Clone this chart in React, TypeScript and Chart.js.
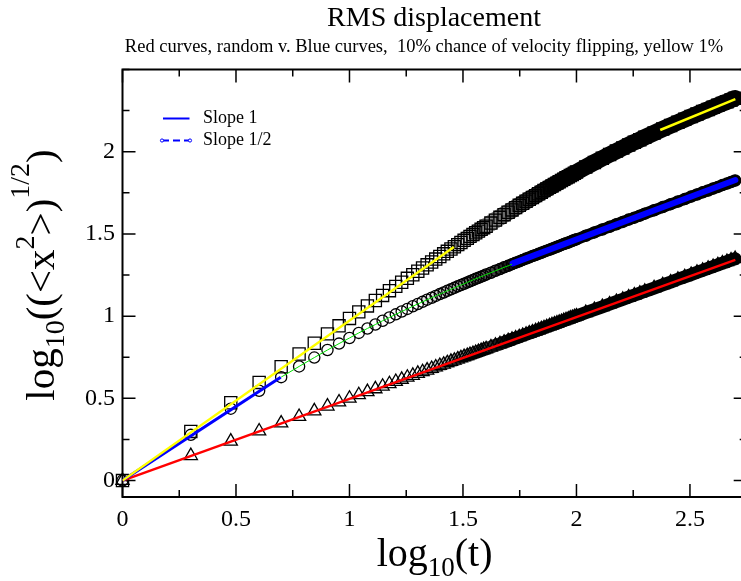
import React, { useEffect, useRef } from 'react';
import { Chart, registerables } from 'chart.js';

Chart.register(...registerables);

const FONT = "'Liberation Serif', 'Times New Roman', Times, serif";

// ---- data (x = log10(t), y = log10(rms displacement)) ----
// t = 1..40, 42..100 step 2, 110..200 step 10, 220..500 step 20
const logTime = [0, 0.301, 0.477, 0.602, 0.699, 0.778, 0.845, 0.903, 0.954, 1, 1.041, 1.079, 1.114, 1.146, 1.176, 1.204, 1.23, 1.255, 1.279, 1.301,
  1.322, 1.342, 1.362, 1.38, 1.398, 1.415, 1.431, 1.447, 1.462, 1.477, 1.491, 1.505, 1.519, 1.531, 1.544, 1.556, 1.568, 1.58, 1.591, 1.602,
  1.623, 1.643, 1.663, 1.681, 1.699, 1.716, 1.732, 1.748, 1.763, 1.778, 1.792, 1.806, 1.82, 1.833, 1.845, 1.857, 1.869, 1.881, 1.892, 1.903,
  1.914, 1.924, 1.934, 1.944, 1.954, 1.964, 1.973, 1.982, 1.991, 2,
  2.041, 2.079, 2.114, 2.146, 2.176, 2.204, 2.23, 2.255, 2.279, 2.301,
  2.342, 2.38, 2.415, 2.447, 2.477, 2.505, 2.531, 2.556, 2.58, 2.602, 2.623, 2.643, 2.663, 2.681, 2.699];

// yellow set (1% velocity flipping) - squares
const squaresY = [0, 0.299, 0.473, 0.597, 0.692, 0.77, 0.835, 0.892, 0.941, 0.986, 1.026, 1.062, 1.095, 1.126, 1.155, 1.181, 1.206, 1.23, 1.252, 1.273,
  1.293, 1.312, 1.329, 1.347, 1.363, 1.379, 1.394, 1.408, 1.422, 1.435, 1.448, 1.461, 1.473, 1.485, 1.496, 1.507, 1.517, 1.528, 1.538, 1.547,
  1.566, 1.584, 1.601, 1.617, 1.632, 1.646, 1.66, 1.674, 1.686, 1.699, 1.711, 1.722, 1.733, 1.744, 1.754, 1.764, 1.774, 1.783, 1.792, 1.801,
  1.809, 1.817, 1.825, 1.833, 1.841, 1.848, 1.855, 1.862, 1.869, 1.876,
  1.907, 1.935, 1.96, 1.983, 2.004, 2.023, 2.041, 2.058, 2.073, 2.088,
  2.114, 2.138, 2.16, 2.179, 2.197, 2.214, 2.229, 2.244, 2.257, 2.27, 2.282, 2.294, 2.304, 2.315, 2.325];

// blue set (10% velocity flipping) - circles
const circlesY = [0, 0.278, 0.437, 0.546, 0.629, 0.694, 0.748, 0.794, 0.833, 0.867, 0.898, 0.925, 0.949, 0.972, 0.992, 1.011, 1.028, 1.044, 1.06, 1.074,
  1.087, 1.1, 1.112, 1.123, 1.134, 1.144, 1.154, 1.163, 1.172, 1.181, 1.189, 1.197, 1.205, 1.212, 1.22, 1.227, 1.233, 1.24, 1.246, 1.253,
  1.264, 1.276, 1.286, 1.297, 1.306, 1.316, 1.325, 1.333, 1.342, 1.35, 1.357, 1.365, 1.372, 1.379, 1.385, 1.392, 1.398, 1.404, 1.41, 1.416,
  1.422, 1.427, 1.433, 1.438, 1.443, 1.448, 1.453, 1.458, 1.463, 1.467,
  1.489, 1.509, 1.527, 1.543, 1.559, 1.573, 1.587, 1.599, 1.611, 1.623,
  1.644, 1.663, 1.681, 1.697, 1.712, 1.727, 1.74, 1.753, 1.764, 1.776, 1.786, 1.797, 1.806, 1.816, 1.825];

// red set (random velocity) - triangles
const trianglesY = [0, 0.151, 0.239, 0.301, 0.349, 0.389, 0.423, 0.452, 0.477, 0.5, 0.521, 0.54, 0.557, 0.573, 0.588, 0.602, 0.615, 0.628, 0.639, 0.651,
  0.661, 0.671, 0.681, 0.69, 0.699, 0.707, 0.716, 0.724, 0.731, 0.739, 0.746, 0.753, 0.759, 0.766, 0.772, 0.778, 0.784, 0.79, 0.796, 0.801,
  0.812, 0.822, 0.831, 0.841, 0.85, 0.858, 0.866, 0.874, 0.882, 0.889, 0.896, 0.903, 0.91, 0.916, 0.923, 0.929, 0.935, 0.94, 0.946, 0.952,
  0.957, 0.962, 0.967, 0.972, 0.977, 0.982, 0.987, 0.991, 0.996, 1,
  1.021, 1.04, 1.057, 1.073, 1.088, 1.102, 1.115, 1.128, 1.139, 1.151,
  1.171, 1.19, 1.207, 1.224, 1.239, 1.253, 1.266, 1.278, 1.29, 1.301, 1.312, 1.322, 1.331, 1.341, 1.349];

// fitted slope lines
const yellowEarlyX = [0, 1.46];
const yellowEarlyY = [0, 1.42];
const yellowLateX = [2.369, 2.7];
const yellowLateY = [2.132, 2.32];
const blueEarlyX = [0, 0.697];
const blueEarlyY = [0, 0.628];
const blueLateX = [1.719, 2.7];
const blueLateY = [1.321, 1.828];
const redX = [0, 2.7];
const redY = [0, 1.342];

const xMajorTicks = [0, 0.5, 1, 1.5, 2, 2.5];
const xTickLabels = ['0', '0.5', '1', '1.5', '2', '2.5'];
const yMajorTicks = [0, 0.5, 1, 1.5, 2];
const yTickLabels = ['0', '0.5', '1', '1.5', '2'];

const TITLE = 'RMS displacement';
const SUBTITLE = 'Red curves, random v. Blue curves,  10% chance of velocity flipping, yellow 1%';
const LEGEND_ITEMS = ['Slope 1', 'Slope 1/2'];

// ---- layout ----
const CANVAS_W = 760;
const CANVAS_H = 581;
const AREA_LEFT = 122.5;
const AREA_RIGHT = 746.7;
const AREA_TOP = 69.5;
const AREA_BOTTOM = 497;

const toPoints = (xs: number[], ys: number[]) => xs.map((x, i) => ({ x, y: ys[i] }));

const grayRamp = (x0: number, x1: number, start: number) => (ctx: any) => {
  const x = (ctx.p0.parsed.x + ctx.p1.parsed.x) / 2;
  const f = Math.max(0, Math.min(1, (x - x0) / (x1 - x0)));
  const v = Math.round(start * (1 - f));
  return `rgb(${v},${v},${v})`;
};

const labelFor = (majors: number[], labels: string[]) => (value: any) => {
  const v = Number(value);
  const i = majors.findIndex((m) => Math.abs(m - v) < 1e-6);
  return i >= 0 ? labels[i] : '';
};

type Part = { t: string; s: number; dy: number };

function drawRich(ctx: CanvasRenderingContext2D, parts: Part[], cx: number, baseY: number) {
  let total = 0;
  const widths = parts.map((p) => {
    ctx.font = `${p.s}px ${FONT}`;
    const w = ctx.measureText(p.t).width;
    total += w;
    return w;
  });
  let x = cx - total / 2;
  ctx.textAlign = 'left';
  ctx.textBaseline = 'alphabetic';
  parts.forEach((p, i) => {
    ctx.font = `${p.s}px ${FONT}`;
    ctx.fillText(p.t, x, baseY + p.dy);
    x += widths[i];
  });
}

const framePlugin = {
  id: 'frameTicks',
  beforeDatasetsDraw(chart: any) {
    const { ctx, chartArea: a } = chart;
    const xs = chart.scales.x;
    const ys = chart.scales.y;
    ctx.save();
    ctx.strokeStyle = '#000';
    ctx.lineWidth = 2;
    ctx.strokeRect(a.left, a.top, a.right - a.left, a.bottom - a.top);
    ctx.lineWidth = 1.5;
    ctx.beginPath();
    xs.ticks.forEach((t: any) => {
      const px = xs.getPixelForValue(t.value);
      const major = xMajorTicks.some((m) => Math.abs(m - t.value) < 1e-6);
      const len = major ? 13 : 7;
      ctx.moveTo(px, a.bottom);
      ctx.lineTo(px, a.bottom - len);
      ctx.moveTo(px, a.top);
      ctx.lineTo(px, a.top + len);
    });
    ys.ticks.forEach((t: any) => {
      const py = ys.getPixelForValue(t.value);
      const major = yMajorTicks.some((m) => Math.abs(m - t.value) < 1e-6);
      const len = major ? 13 : 7;
      ctx.moveTo(a.left, py);
      ctx.lineTo(a.left + len, py);
      ctx.moveTo(a.right, py);
      ctx.lineTo(a.right - len, py);
    });
    ctx.stroke();
    ctx.restore();
  },
};

const textPlugin = {
  id: 'texts',
  afterDraw(chart: any) {
    const { ctx, chartArea: a } = chart;
    ctx.save();
    ctx.fillStyle = '#000';
    ctx.textAlign = 'center';
    ctx.textBaseline = 'alphabetic';
    ctx.font = `28px ${FONT}`;
    ctx.fillText(TITLE, 434, 26);
    ctx.font = `18.5px ${FONT}`;
    ctx.fillText(SUBTITLE, 424, 52);

    // x axis title
    drawRich(ctx, [
      { t: 'log', s: 40, dy: 0 },
      { t: '10', s: 27, dy: 10 },
      { t: '(t)', s: 40, dy: 0 },
    ], (a.left + a.right) / 2, 566);

    // y axis title
    ctx.save();
    ctx.translate(54, 275);
    ctx.rotate(-Math.PI / 2);
    drawRich(ctx, [
      { t: 'log', s: 41, dy: 0 },
      { t: '10', s: 28, dy: 10 },
      { t: '((<x', s: 41, dy: 0 },
      { t: '2', s: 28, dy: -20 },
      { t: '>)', s: 41, dy: 0 },
      { t: '1/2', s: 28, dy: -25 },
      { t: ')', s: 41, dy: 0 },
    ], 0, 0);
    ctx.restore();

    // legend
    ctx.strokeStyle = '#0000ff';
    ctx.lineWidth = 2;
    ctx.beginPath();
    ctx.moveTo(163, 118.5);
    ctx.lineTo(189.5, 118.5);
    ctx.stroke();
    ctx.setLineDash([7, 4]);
    ctx.beginPath();
    ctx.moveTo(162, 140.5);
    ctx.lineTo(190, 140.5);
    ctx.stroke();
    ctx.setLineDash([]);
    ctx.lineWidth = 1;
    [162, 190].forEach((px) => {
      ctx.beginPath();
      ctx.arc(px, 140.5, 1.6, 0, Math.PI * 2);
      ctx.fillStyle = '#fff';
      ctx.fill();
      ctx.stroke();
    });
    ctx.fillStyle = '#000';
    ctx.font = `18px ${FONT}`;
    ctx.textAlign = 'left';
    ctx.textBaseline = 'middle';
    ctx.fillText(LEGEND_ITEMS[0], 203, 118.5);
    ctx.fillText(LEGEND_ITEMS[1], 203, 140.5);
    ctx.restore();
  },
};

export default function App() {
  const ref = useRef<HTMLCanvasElement>(null);
  useEffect(() => {
    const canvas = ref.current;
    if (!canvas) return;
    const squares = toPoints(logTime, squaresY);
    const circles = toPoints(logTime, circlesY);
    const triangles = toPoints(logTime, trianglesY);
    const lineDs = (data: any[], color: string, width: number, cap = 'butt') => ({
      data, showLine: true, borderColor: color, borderWidth: width, pointRadius: 0,
      borderCapStyle: cap, tension: 0, fill: false, order: 0,
    });
    const markerDs = (data: any[], style: string, radius: number) => ({
      data, showLine: false, pointStyle: style, pointRadius: radius, pointBorderWidth: 1.3,
      pointBorderColor: '#000', pointBackgroundColor: 'rgba(0,0,0,0)', order: 1, clip: false,
    });
    const bandDs = (data: any[], width: number, x0: number, x1: number, start: number) => ({
      data, showLine: true, borderWidth: width, borderColor: '#000', pointRadius: 0,
      borderCapStyle: 'round', borderJoinStyle: 'round', tension: 0, fill: false, order: 2, clip: false,
      segment: { borderColor: grayRamp(x0, x1, start) },
    });
    const chart = new Chart(canvas, {
      type: 'scatter',
      data: {
        datasets: [
          lineDs(toPoints(yellowEarlyX, yellowEarlyY), '#ffff00', 2.5),
          lineDs(toPoints(yellowLateX, yellowLateY), '#ffff00', 2.5),
          lineDs(toPoints(blueEarlyX, blueEarlyY), '#0000ff', 3),
          lineDs(circles.slice(4, 46), '#00e000', 1),
          lineDs(toPoints(blueLateX, blueLateY), '#0000ff', 6, 'round'),
          lineDs(toPoints(redX, redY), '#ff0000', 2.5),
          markerDs(squares, 'rect', 8.6),
          markerDs(circles, 'circle', 5.6),
          markerDs(triangles, 'triangle', 7.6),
          bandDs(squares.slice(29), 16.5, 1.5, 1.92, 215),
          bandDs(circles.slice(21), 11.5, 1.38, 1.76, 225),
          bandDs(triangles.slice(21), 13, 1.38, 1.72, 225),
        ] as any,
      },
      options: {
        responsive: false,
        animation: false,
        devicePixelRatio: 1,
        events: [],
        layout: { padding: { left: 0, right: CANVAS_W - AREA_RIGHT, top: AREA_TOP, bottom: 0 } },
        plugins: { legend: { display: false }, tooltip: { enabled: false }, title: { display: false } },
        scales: {
          x: {
            type: 'linear', position: 'bottom', min: 0, max: 2.75,
            grid: { display: false, drawTicks: false },
            border: { display: false },
            ticks: {
              stepSize: 0.25, autoSkip: false, maxRotation: 0, minRotation: 0, includeBounds: false,
              padding: 8, color: '#000', font: { family: FONT, size: 24 },
              callback: labelFor(xMajorTicks, xTickLabels),
            },
            afterFit: (s: any) => { s.height = CANVAS_H - AREA_BOTTOM; },
          },
          y: {
            type: 'linear', position: 'left', min: -0.1, max: 2.5,
            grid: { display: false, drawTicks: false },
            border: { display: false },
            ticks: {
              stepSize: 0.25, autoSkip: false, includeBounds: false,
              padding: 7.5, color: '#000', font: { family: FONT, size: 24 },
              callback: labelFor(yMajorTicks, yTickLabels),
            },
            afterFit: (s: any) => { s.width = AREA_LEFT; },
          },
        },
      } as any,
      plugins: [framePlugin, textPlugin],
    });
    return () => chart.destroy();
  }, []);
  return (
    <div style={{ position: 'fixed', left: 0, top: 0, width: 741, height: 581, overflow: 'hidden', background: '#fff' }}>
      <canvas ref={ref} width={CANVAS_W} height={CANVAS_H} style={{ display: 'block', width: CANVAS_W, height: CANVAS_H }} />
    </div>
  );
}
